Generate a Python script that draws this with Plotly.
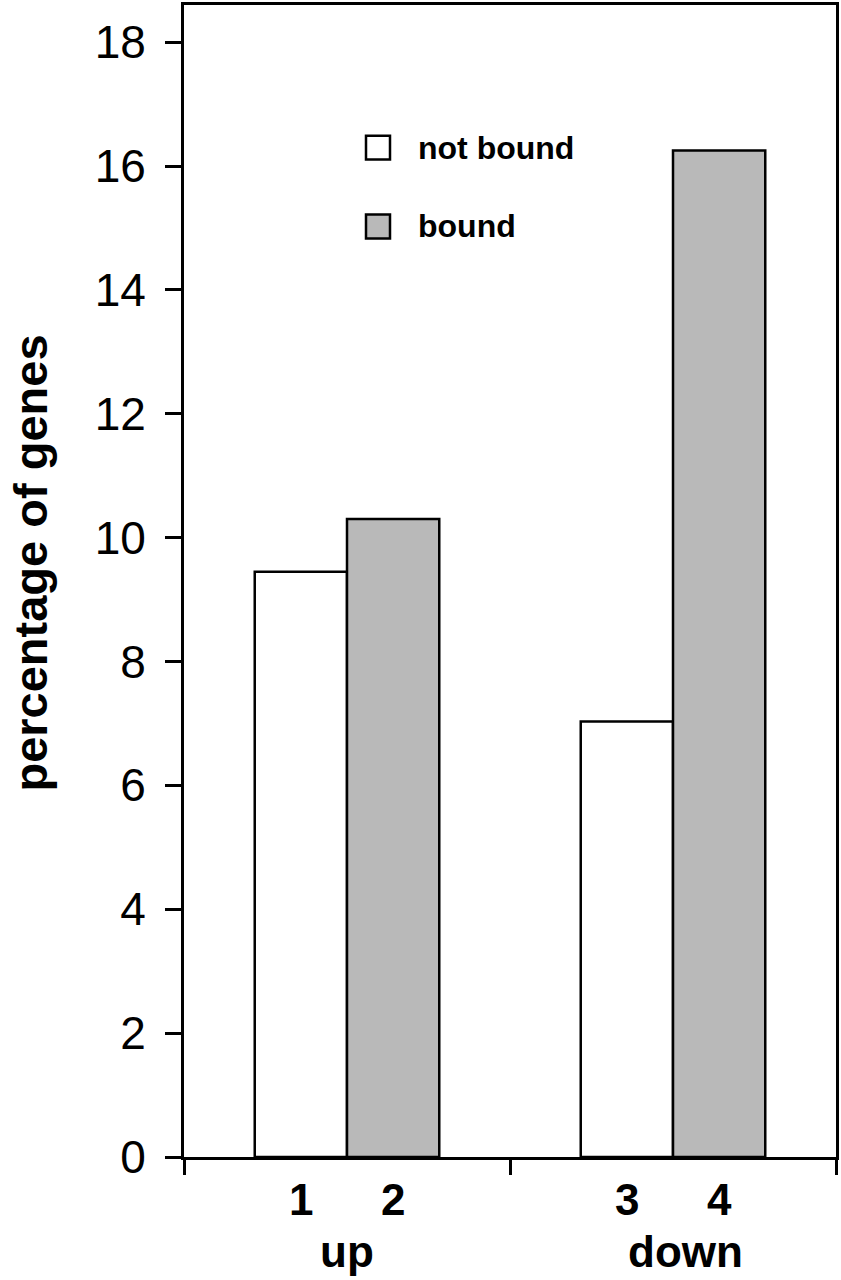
import plotly.graph_objects as go

groups = ["up", "down"]
bar_labels_not_bound = ["1", "3"]
bar_labels_bound = ["2", "4"]
not_bound = [9.45, 7.03]
bound = [10.3, 16.25]
y_ticks = [0, 2, 4, 6, 8, 10, 12, 14, 16, 18]
series_names = ["not bound", "bound"]
series_colors = ["white", "#b9b9b9"]
y_title = "percentage of genes"

FONT = "Liberation Sans, Arial, Helvetica, sans-serif"
bar_w = 0.283
group_label_xshift = [0, 12]
xpos = list(range(len(groups)))

fig = go.Figure()
fig.add_trace(go.Bar(
    x=xpos, y=not_bound, name=series_names[0], width=bar_w, offset=-bar_w,
    marker=dict(color=series_colors[0], line=dict(color="black", width=2.5)),
))
fig.add_trace(go.Bar(
    x=xpos, y=bound, name=series_names[1], width=bar_w, offset=0,
    marker=dict(color=series_colors[1], line=dict(color="black", width=2.5)),
))

annotations = []
for i, g in enumerate(groups):
    annotations.append(dict(x=i - bar_w / 2, y=0, xref="x", yref="y", text=bar_labels_not_bound[i],
                            showarrow=False, yanchor="top", yshift=-16,
                            font=dict(family=FONT, size=44, color="black", weight="bold")))
    annotations.append(dict(x=i + bar_w / 2, y=0, xref="x", yref="y", text=bar_labels_bound[i],
                            showarrow=False, yanchor="top", yshift=-16,
                            font=dict(family=FONT, size=44, color="black", weight="bold")))
    annotations.append(dict(x=i, y=0, xref="x", yref="y", text=g,
                            showarrow=False, yanchor="top", yshift=-68, xshift=group_label_xshift[i],
                            font=dict(family=FONT, size=44, color="black", weight="bold")))

# manual legend (larger swatches than plotly's built-in legend)
shapes = []
plot_l, plot_r, plot_t, plot_b = 184, 836, 2, 1157
def px_x(p):
    return (p - plot_l) / (plot_r - plot_l)
def px_y(p):
    return (plot_b - p) / (plot_b - plot_t)
leg_rows = [145, 224]
for name, color, cy in zip(series_names, series_colors, leg_rows):
    shapes.append(dict(type="rect", xref="paper", yref="paper",
                       x0=px_x(366), x1=px_x(390), y0=px_y(cy + 12), y1=px_y(cy - 12),
                       fillcolor=color, line=dict(color="black", width=2.5)))
    annotations.append(dict(x=px_x(416), y=px_y(cy), xref="paper", yref="paper", text=name,
                            showarrow=False, xanchor="left", yanchor="middle",
                            font=dict(family=FONT, size=32, color="black", weight="bold")))

# y-axis title
annotations.append(dict(x=px_x(31), y=px_y(562), xref="paper", yref="paper", text=y_title,
                        showarrow=False, textangle=-90, xanchor="center", yanchor="middle",
                        font=dict(family=FONT, size=47, color="black", weight="bold")))

fig.update_layout(
    width=841, height=1280,
    margin=dict(l=184, r=5, t=2, b=123),
    plot_bgcolor="white", paper_bgcolor="white",
    barmode="overlay",
    showlegend=False,
    annotations=annotations,
    shapes=shapes,
    xaxis=dict(range=[-0.5, 1.5], tickvals=[-0.5, 0.5, 1.5], ticktext=["", "", ""],
               ticks="outside", ticklen=15, tickwidth=3, tickcolor="black",
               showline=True, linewidth=3, linecolor="black", mirror=True,
               showgrid=False, zeroline=False, fixedrange=True),
    yaxis=dict(range=[0, 18.6], tickvals=y_ticks, ticks="outside", ticklen=16, tickwidth=3,
               tickcolor="black", showline=True, linewidth=3, linecolor="black", mirror=True,
               showgrid=False, zeroline=False, ticklabelstandoff=10,
               tickfont=dict(family=FONT, size=46, color="black")),
)

fig.write_html("out.html")
